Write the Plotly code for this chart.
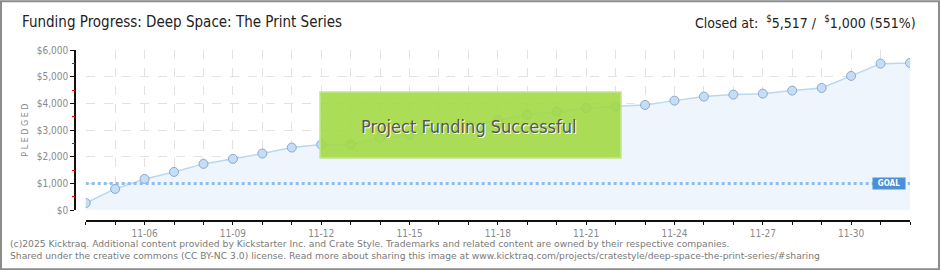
import plotly.graph_objects as go

# ---- data ----
dates = ["2025-11-04", "2025-11-05", "2025-11-06", "2025-11-07", "2025-11-08", "2025-11-09",
         "2025-11-10", "2025-11-11", "2025-11-12", "2025-11-13", "2025-11-14", "2025-11-15",
         "2025-11-16", "2025-11-17", "2025-11-18", "2025-11-19", "2025-11-20", "2025-11-21",
         "2025-11-22", "2025-11-23", "2025-11-24", "2025-11-25", "2025-11-26", "2025-11-27",
         "2025-11-28", "2025-11-29", "2025-11-30", "2025-12-01", "2025-12-02"]
pledged = [274, 800, 1174, 1437, 1737, 1925, 2124, 2349, 2461, 2465, 2720, 2820,
           3000, 3180, 3370, 3580, 3700, 3824, 3890, 3944, 4105, 4255, 4330, 4367,
           4480, 4580, 5030, 5490, 5517]
goal = 1000
x_tick_labels = ["", "", "11-06", "", "", "11-09", "", "", "11-12", "", "", "11-15",
                 "", "", "11-18", "", "", "11-21", "", "", "11-24", "", "", "11-27",
                 "", "", "11-30", "", ""]
y_tick_vals = [0, 1000, 2000, 3000, 4000, 5000, 6000]
y_tick_text = ["$0", "$1,000", "$2,000", "$3,000", "$4,000", "$5,000", "$6,000"]
y_minor_vals = [500, 1500, 2500, 3500, 4500, 5500]

# ---- geometry (pixels) ----
WIDTH, HEIGHT = 940, 270
L, R, T, B = 75, 910, 49.7, 220.7
W, H = R - L, B - T


def px(xp):
    return (xp - L) / W


def py(yp):
    return (B - yp) / H


TITLE_FONT = "DejaVu Sans Condensed, Roboto, sans-serif"
TICK_FONT = dict(family="DejaVu Sans Condensed, DejaVu Sans, sans-serif", size=10, color="#8a8a8a")
YDOM = [py(210), 1]

fig = go.Figure()

fig.add_trace(go.Scatter(
    x=dates, y=pledged, mode="lines+markers",
    line=dict(color="#b9d7f3", width=1.5),
    fill="tozeroy", fillcolor="#eef5fd",
    marker=dict(size=9, color="#c4def8", line=dict(color="#8ea8c6", width=1)),
    hoverinfo="skip", showlegend=False,
))

fig.add_trace(go.Scatter(
    x=[dates[0], dates[-1]], y=[goal, goal], mode="lines",
    line=dict(color="#91bdea", width=3, dash="dot"),
    hoverinfo="skip", showlegend=False,
))

fig.update_layout(
    width=WIDTH, height=HEIGHT,
    margin=dict(l=L, r=WIDTH - R, t=T, b=HEIGHT - B, pad=0),
    paper_bgcolor="white", plot_bgcolor="white",
    xaxis=dict(
        domain=[px(85.7), 1], anchor="free", position=0,
        range=[dates[0], dates[-1]],
        tickmode="array", tickvals=dates, ticktext=x_tick_labels,
        showline=True, linecolor="#111", linewidth=1.5,
        ticks="outside", ticklen=3, tickcolor="#111", tickwidth=1,
        showgrid=True, gridcolor="#e2e2e2", griddash="dash", gridwidth=1,
        zeroline=False, tickfont=TICK_FONT,
    ),
    yaxis=dict(
        domain=YDOM, anchor="free", position=0,
        range=[0, 6000],
        tickmode="array", tickvals=y_tick_vals, ticktext=y_tick_text,
        showline=True, linecolor="#111", linewidth=1.5,
        ticks="outside", ticklen=4, tickcolor="#111", tickwidth=1,
        showgrid=True, gridcolor="#e2e2e2", griddash="dash", gridwidth=1,
        zeroline=False, tickfont=TICK_FONT,
        title=dict(text="P L E D G E D", font=dict(family="DejaVu Sans, sans-serif", size=8, color="#8a8a8a"),
                   standoff=6),
    ),
    yaxis2=dict(
        domain=YDOM, anchor="free", position=0, overlaying="y",
        range=[0, 6000],
        tickmode="array", tickvals=y_minor_vals, ticktext=["" for _ in y_minor_vals],
        showline=False, ticks="outside", ticklen=3, tickcolor="#e00000", tickwidth=1,
        showgrid=False, zeroline=False, side="left",
    ),
)

# dummy invisible trace to activate yaxis2
fig.add_trace(go.Scatter(x=[dates[0]], y=[0], yaxis="y2", mode="markers",
                         marker=dict(opacity=0), hoverinfo="skip", showlegend=False))

shapes = [
    dict(type="rect", xref="paper", yref="paper", x0=px(1), x1=px(939), y0=py(1), y1=py(269),
         line=dict(color="#8c8c8c", width=2), fillcolor="rgba(0,0,0,0)", layer="above"),
    dict(type="rect", xref="paper", yref="paper", x0=px(320), x1=px(621), y0=py(91.7), y1=py(157.7),
         line=dict(color="#c3e68c", width=1.5), fillcolor="rgba(160,216,64,0.88)", layer="above"),
]
fig.update_layout(shapes=shapes)

annotations = [
    dict(text="Funding Progress: Deep Space: The Print Series", xref="paper", yref="paper",
         x=px(20), y=py(22), xanchor="left", yanchor="middle", showarrow=False,
         font=dict(family=TITLE_FONT, size=15, color="#222")),
    dict(text="Closed at:  <sup>$</sup>5,517 /  <sup>$</sup>1,000 (551%)", xref="paper", yref="paper",
         x=px(918), y=py(22), xanchor="right", yanchor="middle", showarrow=False,
         font=dict(family=TITLE_FONT, size=14, color="#222")),
    dict(text="Project Funding Successful", xref="paper", yref="paper",
         x=px(468), y=py(126), xanchor="center", yanchor="middle", showarrow=False,
         font=dict(family=TITLE_FONT, size=18, color="#555", shadow="1px 1px 0px #ffffff")),
    dict(text="<b>GOAL</b>", xref="paper", yref="y",
         x=px(888.5), y=goal, xanchor="center", yanchor="middle", showarrow=False,
         bgcolor="#4b8fd8", borderpad=1, width=30,
         font=dict(family="DejaVu Sans Condensed, sans-serif", size=8, color="white")),
    dict(text="(c)2025 Kicktraq. Additional content provided by Kickstarter Inc. and Crate Style. Trademarks and related content are owned by their respective companies.<br>"
              "Shared under the creative commons (CC BY-NC 3.0) license. Read more about sharing this image at www.kicktraq.com/projects/cratestyle/deep-space-the-print-series/#sharing",
         xref="paper", yref="paper", x=px(8), y=py(249), xanchor="left", yanchor="middle",
         align="left", showarrow=False,
         font=dict(family="DejaVu Sans, sans-serif", size=9.2, color="#7a7a7a")),
]
fig.update_layout(annotations=annotations)

fig.write_html("out.html")
